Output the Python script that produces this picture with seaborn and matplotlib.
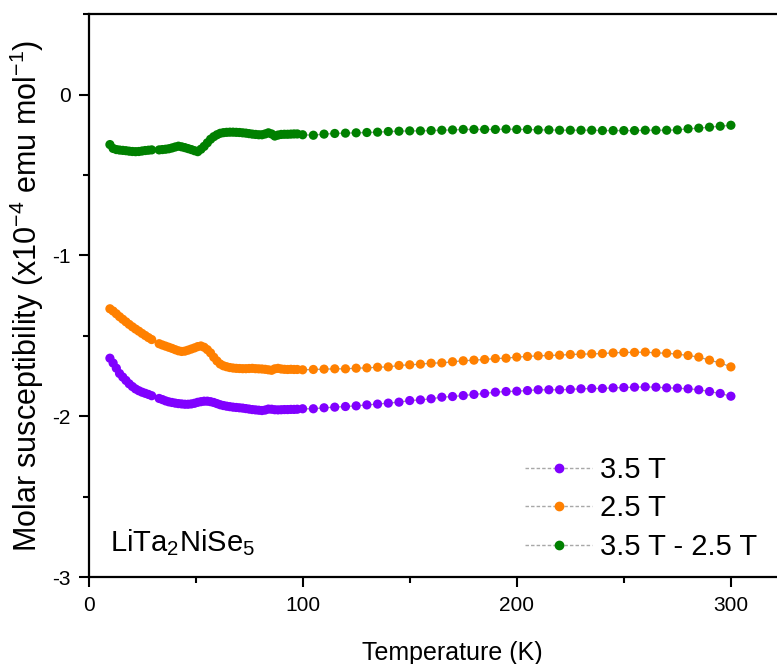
import numpy as np
import pandas as pd
import seaborn as sns
import matplotlib
matplotlib.use("Agg")
import matplotlib.pyplot as plt
from matplotlib.lines import Line2D
from matplotlib.ticker import MultipleLocator

sns.set_style("ticks")
plt.rcParams["font.family"] = ["Liberation Sans", "DejaVu Sans"]
plt.rcParams["mathtext.fontset"] = "custom"
plt.rcParams["mathtext.rm"] = "Liberation Sans"
plt.rcParams["mathtext.it"] = "Liberation Sans"
plt.rcParams["mathtext.default"] = "regular"
plt.rcParams["axes.unicode_minus"] = False
for key in ["text.color", "axes.labelcolor", "xtick.color", "ytick.color", "axes.edgecolor"]:
    plt.rcParams[key] = "black"

# Temperature grid (K): dense below 100 K, 5 K steps above
temp_low = [10, 11.5, 13, 14.5, 16, 17.5, 19, 20.5, 22, 23.5, 25, 26.5, 28, 29.5,
            33, 34.5, 36, 37.5, 39, 40.5, 42, 43.5, 45, 46.5, 48, 49.5, 51, 52.5,
            54, 55.5, 57, 58.5, 60, 61.5, 63, 64.5, 66, 67.5, 69, 70.5, 72, 73.5,
            75, 76.5, 78, 79.5, 81, 82.5, 84, 85.5, 87, 88.5, 90, 91.5, 93, 94.5,
            96, 97.5]
temp_high = [100, 105, 110, 115, 120, 125, 130, 135, 140, 145, 150, 155, 160, 165,
             170, 175, 180, 185, 190, 195, 200, 205, 210, 215, 220, 225, 230, 235,
             240, 245, 250, 255, 260, 265, 270, 275, 280, 285, 290, 295, 300]

# Molar susceptibility (x1e-4 emu/mol) at 3.5 T
chi_35_low = [-1.638, -1.668, -1.700, -1.733, -1.755, -1.776, -1.797, -1.814, -1.829, -1.840,
              -1.849, -1.856, -1.863, -1.871, -1.888, -1.895, -1.903, -1.909, -1.913, -1.917,
              -1.920, -1.922, -1.924, -1.924, -1.922, -1.918, -1.912, -1.908, -1.905, -1.905,
              -1.908, -1.913, -1.920, -1.927, -1.932, -1.936, -1.939, -1.942, -1.944, -1.946,
              -1.948, -1.951, -1.954, -1.957, -1.959, -1.961, -1.963, -1.960, -1.954, -1.955,
              -1.958, -1.959, -1.958, -1.957, -1.957, -1.956, -1.956, -1.955]
chi_35_high = [-1.952, -1.952, -1.946, -1.942, -1.938, -1.934, -1.928, -1.923, -1.917, -1.911,
               -1.901, -1.897, -1.890, -1.880, -1.876, -1.870, -1.863, -1.857, -1.849, -1.845,
               -1.843, -1.839, -1.834, -1.834, -1.834, -1.832, -1.828, -1.826, -1.826, -1.822,
               -1.820, -1.818, -1.816, -1.818, -1.822, -1.824, -1.828, -1.834, -1.845, -1.857,
               -1.874]

# Molar susceptibility at 2.5 T
chi_25_low = [-1.331, -1.345, -1.362, -1.380, -1.396, -1.412, -1.428, -1.443, -1.457, -1.470,
              -1.484, -1.497, -1.510, -1.522, -1.548, -1.556, -1.563, -1.570, -1.577, -1.585,
              -1.592, -1.596, -1.594, -1.588, -1.581, -1.574, -1.566, -1.562, -1.570, -1.585,
              -1.605, -1.632, -1.655, -1.674, -1.685, -1.691, -1.696, -1.699, -1.701, -1.702,
              -1.703, -1.703, -1.702, -1.701, -1.703, -1.704, -1.705, -1.707, -1.710, -1.713,
              -1.704, -1.701, -1.705, -1.707, -1.708, -1.707, -1.708, -1.708]
chi_25_high = [-1.710, -1.708, -1.706, -1.704, -1.704, -1.700, -1.698, -1.694, -1.692, -1.683,
               -1.679, -1.675, -1.669, -1.667, -1.660, -1.654, -1.650, -1.646, -1.640, -1.638,
               -1.631, -1.627, -1.623, -1.621, -1.619, -1.615, -1.613, -1.611, -1.609, -1.605,
               -1.602, -1.602, -1.600, -1.605, -1.607, -1.613, -1.621, -1.631, -1.650, -1.667,
               -1.692]

# Difference 3.5 T - 2.5 T
chi_diff_low = [-0.311, -0.335, -0.342, -0.345, -0.347, -0.349, -0.352, -0.354, -0.355, -0.354,
                -0.351, -0.348, -0.346, -0.344, -0.344, -0.342, -0.340, -0.337, -0.332, -0.326,
                -0.321, -0.325, -0.330, -0.336, -0.342, -0.349, -0.355, -0.340, -0.322, -0.300,
                -0.278, -0.262, -0.250, -0.241, -0.237, -0.235, -0.234, -0.234, -0.235, -0.236,
                -0.238, -0.240, -0.243, -0.246, -0.248, -0.250, -0.250, -0.245, -0.238, -0.245,
                -0.258, -0.252, -0.248, -0.247, -0.247, -0.246, -0.245, -0.245]
chi_diff_high = [-0.250, -0.253, -0.246, -0.242, -0.240, -0.238, -0.236, -0.234, -0.230, -0.228,
                 -0.226, -0.226, -0.224, -0.222, -0.220, -0.217, -0.217, -0.217, -0.217, -0.215,
                 -0.217, -0.217, -0.220, -0.220, -0.222, -0.222, -0.222, -0.222, -0.224, -0.224,
                 -0.224, -0.224, -0.222, -0.222, -0.222, -0.220, -0.213, -0.209, -0.203, -0.197,
                 -0.191]

series_labels = ["3.5 T", "2.5 T", "3.5 T - 2.5 T"]
series_colors = ["#8000FF", "#FF8000", "#008000"]

temps = temp_low + temp_high
frames = []
for lab, lo, hi in zip(series_labels,
                       [chi_35_low, chi_25_low, chi_diff_low],
                       [chi_35_high, chi_25_high, chi_diff_high]):
    frames.append(pd.DataFrame({"T": temps, "chi": lo + hi, "field": lab}))
df = pd.concat(frames, ignore_index=True)

fig = plt.figure(figsize=(7.77, 6.64), dpi=100)
# the frame runs past the right edge of the canvas
ax = fig.add_axes([0.1139, 0.1303, 0.937, 0.8486])

# thin grey connectors behind the points
for lab in series_labels:
    sub = df[df["field"] == lab]
    sns.lineplot(data=sub, x="T", y="chi", ax=ax, color="#9a9a9a", lw=0.9,
                 estimator=None, sort=False, legend=False, zorder=1)
sns.scatterplot(data=df, x="T", y="chi", hue="field", hue_order=series_labels,
                palette=series_colors, s=44, linewidth=0, ax=ax, legend=False, zorder=2)

ax.set_xlim(0, 340)
ax.set_ylim(-3, 0.5)
ax.xaxis.set_major_locator(MultipleLocator(100))
ax.xaxis.set_minor_locator(MultipleLocator(50))
ax.yaxis.set_major_locator(MultipleLocator(1))
ax.yaxis.set_minor_locator(MultipleLocator(0.5))
ax.tick_params(which="major", direction="out", length=7, width=1.5, labelsize=15, pad=6,
               colors="black")
ax.tick_params(which="minor", direction="out", length=4, width=1.5, colors="black")
for side in ["left", "bottom", "top"]:
    ax.spines[side].set_linewidth(1.6)
    ax.spines[side].set_color("black")
ax.spines["right"].set_visible(False)

ax.set_xlabel("Temperature (K)", fontsize=18, labelpad=19)
ax.set_ylabel(r"Molar susceptibility (x10$^{-4}$ emu mol$^{-1}$)", fontsize=22, labelpad=4)

ax.text(0.029, 0.0612, r"LiTa$_2$NiSe$_5$", transform=ax.transAxes, fontsize=21,
        ha="left", va="center")

handles = [Line2D([0], [0], color="#a8a8a8", lw=1.0, ls=(0, (2.5, 1.5)), marker="o",
                  markersize=6, markerfacecolor=c, markeredgecolor=c)
           for c in series_colors]
ax.legend(handles, series_labels, loc="upper left", bbox_to_anchor=(0.5996, 0.216),
          frameon=False, fontsize=21, handlelength=2.3, handletextpad=0.27,
          labelspacing=0.36, borderaxespad=0, borderpad=0)

fig.savefig("out.png", dpi=100)
